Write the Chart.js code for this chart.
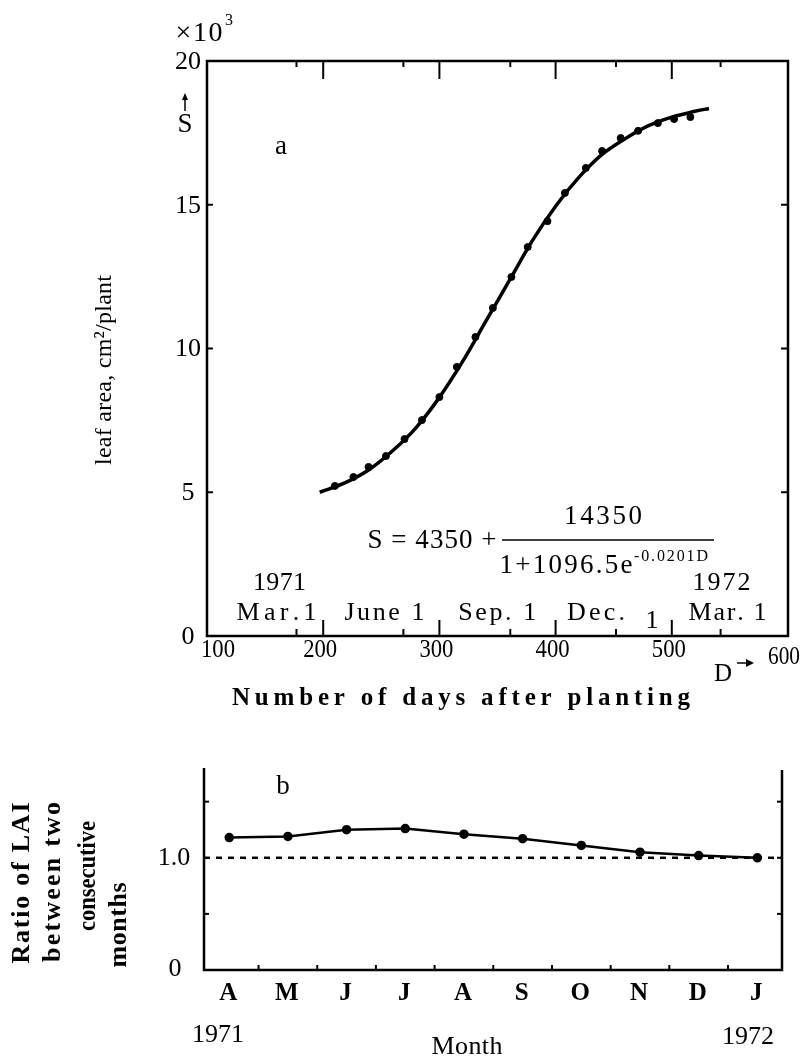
<!DOCTYPE html>
<html>
<head>
<meta charset="utf-8">
<script src="https://cdn.jsdelivr.net/npm/chart.js@4.4.0/dist/chart.umd.min.js"></script>
<style>
    body { margin: 0; background: #fff; width: 803px; height: 1057px; position: relative; overflow: hidden; }
    canvas { position: absolute; left: 0; }
</style>
</head>
<body>
<canvas id="leaf-chart" width="803" height="740" style="top:0"></canvas>
<canvas id="ratio-chart" width="803" height="317" style="top:740px"></canvas>
<script>
// Panel a: leaf area per plant against days after planting
const dayPoints = [210, 226, 239, 254, 270, 285, 300, 315, 331, 346, 362, 376, 393, 408, 426, 440, 456, 471, 488, 502, 516];
const leafPoints = [5220, 5530, 5880, 6260, 6850, 7510, 8310, 9360, 10400, 11410, 12490, 13530, 14430, 15410, 16280, 16870, 17320, 17570, 17840, 17980, 18050];
// fitted curve
const curveDays = [197, 220, 240, 260, 280, 300, 320, 340, 360, 380, 400, 420, 440, 460, 480, 500, 520, 532];
const curveLeaf = [5000, 5350, 5800, 6450, 7250, 8300, 9550, 10950, 12350, 13750, 14950, 15950, 16750, 17300, 17750, 18050, 18250, 18350];
const dayTicks = [100, 200, 300, 400, 500, 600];
const dateTicks = [177, 269, 361, 452, 542];
const leafTicks = [0, 5000, 10000, 15000, 20000];

// Panel b: ratio of LAI between two consecutive months
const months = ['A', 'M', 'J', 'J', 'A', 'S', 'O', 'N', 'D', 'J'];
const laiRatio = [1.18, 1.19, 1.25, 1.26, 1.21, 1.17, 1.11, 1.05, 1.02, 1.00];
const ratioTicks = [0, 0.5, 1.0, 1.5];
const ratioRef = 1.0;
const monthMin = -0.43;
const monthMax = 9.42;

const serif = '"Liberation Serif", "DejaVu Serif", serif';

function line(ctx, x1, y1, x2, y2) {
    ctx.beginPath();
    ctx.moveTo(x1, y1);
    ctx.lineTo(x2, y2);
    ctx.stroke();
}

// draw text centred on (cx, cy), stretched or squeezed to a given width
function spacedText(ctx, text, cx, cy, width, font) {
    ctx.save();
    ctx.font = font;
    ctx.textBaseline = 'middle';
    ctx.textAlign = 'left';
    const chars = [...text];
    const widths = chars.map(c => ctx.measureText(c).width);
    const natural = widths.reduce((a, b) => a + b, 0);
    if (natural >= width || chars.length < 2) {
        ctx.translate(cx - width / 2, cy);
        ctx.scale(width / natural, 1);
        ctx.fillText(text, 0, 0);
    } else {
        const gap = (width - natural) / (chars.length - 1);
        let x = cx - width / 2;
        chars.forEach((c, i) => {
            ctx.fillText(c, x, cy);
            x += widths[i] + gap;
        });
    }
    ctx.restore();
}

function rotatedText(ctx, text, cx, cy, width, font) {
    ctx.save();
    ctx.translate(cx, cy);
    ctx.rotate(-Math.PI / 2);
    spacedText(ctx, text, 0, 0, width, font);
    ctx.restore();
}

function plainText(ctx, text, x, y, font, align) {
    ctx.font = font;
    ctx.textAlign = align || 'center';
    ctx.textBaseline = 'middle';
    ctx.fillText(text, x, y);
}

const leafDecor = {
    id: 'leafDecor',
    afterDraw(chart) {
        const { ctx, chartArea: a, scales: { x, y } } = chart;
        ctx.save();
        ctx.strokeStyle = '#000';
        ctx.fillStyle = '#000';
        ctx.lineWidth = 2.5;
        ctx.strokeRect(a.left, a.top, a.right - a.left, a.bottom - a.top);

        ctx.lineWidth = 2;
        dayTicks.slice(1, -1).forEach(d => {
            const px = x.getPixelForValue(d);
            line(ctx, px, a.top, px, a.top + 18);
            line(ctx, px, a.bottom, px, a.bottom - 16);
        });
        dateTicks.forEach(d => {
            const px = x.getPixelForValue(d);
            line(ctx, px, a.top, px, a.top + 6);
            line(ctx, px, a.bottom, px, a.bottom - 7);
        });
        leafTicks.slice(1, -1).forEach(v => {
            const py = y.getPixelForValue(v);
            line(ctx, a.left, py, a.left + 6, py);
            line(ctx, a.right, py, a.right - 7, py);
        });

        // tick labels
        const tickFont = '26px ' + serif;
        dayTicks.slice(0, -1).forEach((d, i) => {
            const px = x.getPixelForValue(d) + (i === 0 ? 11 : -3);
            spacedText(ctx, String(d), px, a.bottom + 14, 34, tickFont);
        });
        const last = dayTicks[dayTicks.length - 1];
        spacedText(ctx, String(last), x.getPixelForValue(last) - 4, a.bottom + 21, 32, '26px ' + serif);
        plainText(ctx, 'D', x.getPixelForValue(last) - 65, a.bottom + 38, '25px ' + serif);
        ctx.lineWidth = 1.5;
        const ay = a.bottom + 27;
        const ax = x.getPixelForValue(last) - 36;
        line(ctx, ax - 15, ay, ax, ay);
        ctx.beginPath();
        ctx.moveTo(ax + 2, ay);
        ctx.lineTo(ax - 6, ay - 4);
        ctx.lineTo(ax - 6, ay + 4);
        ctx.closePath();
        ctx.fill();

        leafTicks.forEach(v => {
            spacedText(ctx, String(v / 1000), a.left - 19, y.getPixelForValue(v) + 1, v >= 10000 ? 26 : 13, tickFont);
        });

        // multiplier and axis symbol
        spacedText(ctx, '×10', a.left - 8, a.top - 27, 47, '28px ' + serif);
        plainText(ctx, '3', a.left + 22, a.top - 40, '16px ' + serif);
        ctx.lineWidth = 1.5;
        line(ctx, a.left - 22, a.top + 50, a.left - 22, a.top + 36);
        ctx.beginPath();
        ctx.moveTo(a.left - 22, a.top + 32);
        ctx.lineTo(a.left - 25, a.top + 39);
        ctx.lineTo(a.left - 19, a.top + 39);
        ctx.closePath();
        ctx.fill();
        plainText(ctx, 'S', a.left - 22, a.top + 64, '27px ' + serif);
        plainText(ctx, 'a', 281, 147, '27px ' + serif);

        // calendar dates along the bottom
        const dateFont = '26px ' + serif;
        const dateLabels = ['Mar.1', 'June 1', 'Sep. 1', 'Dec.', 'Mar. 1'];
        const dateShift = [-20, -19, -13, -20, 7];
        const dateWidth = [80, 80, 78, 58, 78];
        dateTicks.forEach((d, i) => {
            spacedText(ctx, dateLabels[i], x.getPixelForValue(d) + dateShift[i], a.bottom - 23, dateWidth[i], dateFont);
        });
        plainText(ctx, '1', x.getPixelForValue(dateTicks[3]) + 36, a.bottom - 15, dateFont);
        spacedText(ctx, '1971', x.getPixelForValue(dateTicks[0]) - 17, a.bottom - 53, 53, dateFont);
        spacedText(ctx, '1972', x.getPixelForValue(dateTicks[4]) + 1, a.bottom - 53, 58, dateFont);

        // fitted equation
        const eqFont = '27px ' + serif;
        spacedText(ctx, 'S = 4350 +', 432, 541, 129, eqFont);
        spacedText(ctx, '14350', 603, 517, 78, eqFont);
        ctx.lineWidth = 1.5;
        line(ctx, 502, 540, 714, 540);
        spacedText(ctx, '1+1096.5e', 566, 566, 133, eqFont);
        spacedText(ctx, '-0.0201D', 671, 557, 74, '16px ' + serif);

        // axis titles
        spacedText(ctx, 'Number of days after planting', 461, 699, 458, 'bold 25px ' + serif);
        rotatedText(ctx, 'leaf area, cm²/plant', 105, 370, 190, '24px ' + serif);
        ctx.restore();
    }
};

const ratioDecor = {
    id: 'ratioDecor',
    afterDraw(chart) {
        const { ctx, chartArea: a, scales: { x, y } } = chart;
        ctx.save();
        ctx.strokeStyle = '#000';
        ctx.fillStyle = '#000';
        ctx.lineWidth = 2.5;
        ctx.beginPath();
        ctx.moveTo(a.left, a.top);
        ctx.lineTo(a.left, a.bottom);
        ctx.lineTo(a.right, a.bottom);
        ctx.lineTo(a.right, a.top + 2);
        ctx.stroke();

        ctx.lineWidth = 2;
        ratioTicks.slice(1).forEach(v => {
            const py = y.getPixelForValue(v);
            if (v !== ratioRef) line(ctx, a.left, py, a.left + 5, py);
            line(ctx, a.right, py, a.right - 5, py);
        });
        months.slice(1).forEach((m, i) => {
            const px = x.getPixelForValue(i + 0.5);
            line(ctx, px, a.bottom, px, a.bottom - 5);
        });

        const labelFont = 'bold 25px ' + serif;
        months.forEach((m, i) => {
            plainText(ctx, m, x.getPixelForValue(i) - 1, a.bottom + 24, labelFont);
        });
        plainText(ctx, '1.0', a.left - 30, y.getPixelForValue(ratioRef), '26px ' + serif);
        plainText(ctx, '0', a.left - 29, y.getPixelForValue(0) - 1, '26px ' + serif);
        plainText(ctx, 'b', 283, 787 - 740, '27px ' + serif);

        plainText(ctx, '1971', 218, 1035 - 740, '26px ' + serif);
        plainText(ctx, '1972', 748, 1037 - 740, '26px ' + serif);
        spacedText(ctx, 'Month', 467, 1047 - 740, 71, '26px ' + serif);

        const titleFont = 'bold 26px ' + serif;
        rotatedText(ctx, 'Ratio of LAI', 22, 883 - 740, 161, titleFont);
        rotatedText(ctx, 'between two', 53, 882 - 740, 160, titleFont);
        rotatedText(ctx, 'consecutive', 88, 876 - 740, 110, titleFont);
        rotatedText(ctx, 'months', 119, 925 - 740, 85, titleFont);
        ctx.restore();
    }
};

const leafChart = new Chart(document.getElementById('leaf-chart'), {
    type: 'scatter',
    data: {
        datasets: [{
            type: 'line',
            data: curveDays.map((d, i) => ({ x: d, y: curveLeaf[i] })),
            borderColor: '#000',
            borderWidth: 3.5,
            pointRadius: 0,
            cubicInterpolationMode: 'monotone'
        }, {
            data: dayPoints.map((d, i) => ({ x: d, y: leafPoints[i] })),
            pointRadius: 3.5,
            backgroundColor: '#000',
            borderColor: '#000'
        }]
    },
    options: {
        responsive: false,
        animation: false,
        events: [],
        layout: { padding: { left: 207, right: 15, top: 61, bottom: 104 } },
        plugins: { legend: { display: false }, tooltip: { enabled: false } },
        scales: {
            x: { type: 'linear', min: 100, max: 600, display: false },
            y: { type: 'linear', min: 0, max: 20000, display: false }
        }
    },
    plugins: [leafDecor]
});

const ratioChart = new Chart(document.getElementById('ratio-chart'), {
    type: 'line',
    data: {
        datasets: [{
            data: laiRatio.map((v, i) => ({ x: i, y: v })),
            borderColor: '#000',
            backgroundColor: '#000',
            borderWidth: 2.5,
            pointRadius: 3.5,
            tension: 0
        }, {
            data: [{ x: monthMin, y: ratioRef }, { x: monthMax, y: ratioRef }],
            borderColor: '#000',
            borderWidth: 2.5,
            borderDash: [6, 6],
            pointRadius: 0
        }]
    },
    options: {
        responsive: false,
        animation: false,
        events: [],
        layout: { padding: { left: 204, right: 21, top: 28, bottom: 87 } },
        plugins: { legend: { display: false }, tooltip: { enabled: false } },
        scales: {
            x: { type: 'linear', min: monthMin, max: monthMax, display: false },
            y: { type: 'linear', min: 0, max: 1.8, display: false }
        }
    },
    plugins: [ratioDecor]
});
</script>
</body>
</html>
